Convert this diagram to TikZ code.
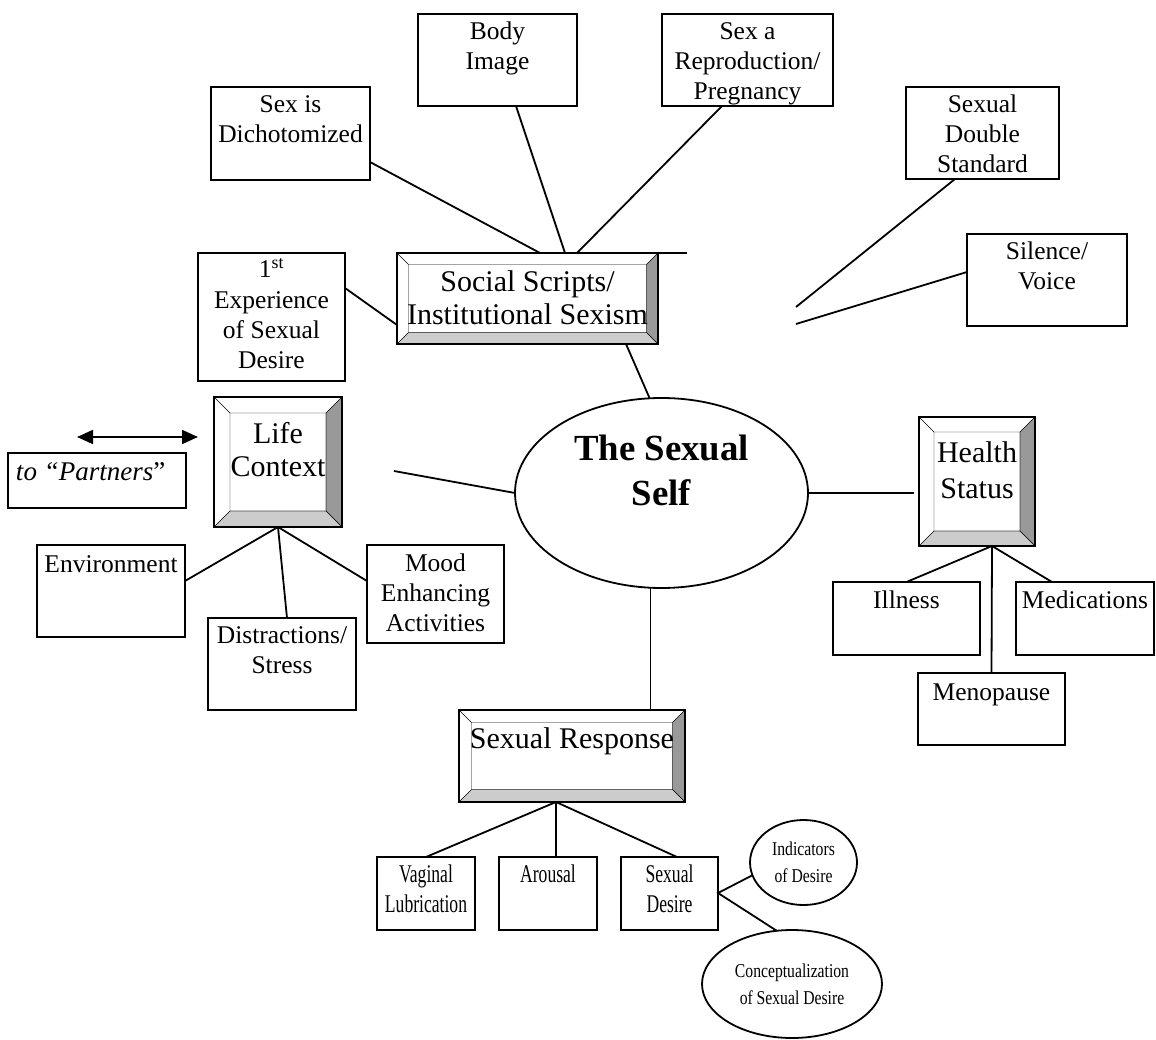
\documentclass[tikz,border=0pt]{standalone}
\usepackage{fontspec}
\setmainfont{Liberation Serif}
\newfontfamily\condfont[FakeStretch=0.69]{Liberation Serif}
\newfontfamily\slimfont[FakeStretch=0.8]{Liberation Serif}
\usetikzlibrary{calc,shapes.geometric,arrows.meta,backgrounds}

\definecolor{bevdark}{gray}{0.6}
\definecolor{bevlight}{gray}{0.8}

% fixed-size text block: width, height, first baseline offset, lines
\newcommand\btext[4]{\parbox[c][#2pt][t]{#1pt}{\centering\rule{0pt}{#3pt}#4}}

% bevelled frame around a rectangular node: node name, bevel width
\newcommand\bevelframe[2]{%
  \begin{scope}[on background layer, bevelline]
    \path (#1.north west) coordinate (bo1) (#1.north east) coordinate (bo2)
          (#1.south east) coordinate (bo3) (#1.south west) coordinate (bo4);
    \path ($(bo1)+(#2,#2)$) coordinate (bi1) ($(bo2)+(-#2,#2)$) coordinate (bi2)
          ($(bo3)+(-#2,-#2)$) coordinate (bi3) ($(bo4)+(#2,-#2)$) coordinate (bi4);
    \filldraw[fill=bevdark] (bo2) -- (bo3) -- (bi3) -- (bi2) -- cycle;
    \filldraw[fill=bevlight] (bo4) -- (bo3) -- (bi3) -- (bi4) -- cycle;
    \draw (bo1) -- (bi1) (bi1) rectangle (bi3);
  \end{scope}}

\tikzset{
  every node/.style={inner sep=0pt, outer sep=0pt},
  plainbox/.style={draw, line width=2pt, anchor=north west, font=\fontsize{25.5}{30}\selectfont},
  lowbox/.style={plainbox, font=\condfont\fontsize{25.5}{30}\selectfont},
  bevbox/.style={draw, line width=2.2pt, anchor=north west, font=\fontsize{30}{33}\selectfont},
  bubble/.style={draw, ellipse, line width=1.8pt, align=center, font=\slimfont\fontsize{19.6}{27}\selectfont},
  link/.style={line width=1.8pt},
  bevelline/.style={line width=1.9pt, line join=miter},
  twoway/.style={{Triangle[length=16pt,width=14pt]}-{Triangle[length=16pt,width=14pt]}},
}

\begin{document}
\begin{tikzpicture}[x=1pt, y=-1pt]
\begin{scope}[on background layer]
  \fill[white] (0,0) rectangle (1156,1040);
\end{scope}
\useasboundingbox (0,0) rectangle (1156,1040);

% social scripts cluster
\node[plainbox] (dich) at (211,87) {\btext{159}{93}{26}{Sex is\\Dichotomized}};
\node[plainbox] (body) at (418,14) {\btext{159}{92}{26}{Body\\Image}};
\node[plainbox] (repro) at (662,14) {\btext{171}{92}{26}{Sex a\\Reproduction/\\Pregnancy}};
\node[plainbox] (dbl) at (906,87) {\btext{153}{92}{26}{Sexual\\Double\\Standard}};
\node[plainbox] (sil) at (967,234) {\btext{160}{92}{26}{Silence/\\Voice}};
\node[plainbox] (exp) at (198,253) {\btext{147}{128}{25}{1\textsuperscript{st}\\Experience\\of Sexual\\Desire}};
\node[bevbox] (ss) at (397,253) {\btext{261}{91}{39}{Social Scripts/\\Institutional Sexism}};
\bevelframe{ss}{11.5}

% life context cluster
\node[bevbox] (lc) at (214,397) {\btext{128}{130}{46}{Life\\Context}};
\bevelframe{lc}{16}
\node[plainbox] (partners) at (8,453) {\parbox[c][55pt][t]{178pt}{\rule{0pt}{27pt}\hspace*{8pt}\fontsize{27}{30}\selectfont\itshape to “Partners\/\upshape”}};
\node[plainbox] (env) at (37,545) {\btext{148}{92}{27}{Environment}};
\node[plainbox] (distr) at (208,618) {\btext{148}{92}{25}{Distractions/\\Stress}};
\node[plainbox] (mood) at (367,545) {\btext{137}{98}{26}{Mood\\Enhancing\\Activities}};

% centre
\node[draw, ellipse, line width=1.8pt, minimum width=293pt, minimum height=190pt,
      font=\bfseries\fontsize{36.8}{45}\selectfont] (self) at (661.5,493)
      {\btext{200}{130}{32}{The Sexual\\Self}};

% health status cluster
\node[bevbox] (hs) at (919,417) {\btext{116}{129}{45}{\fontsize{30}{36}\selectfont Health\\Status}};
\bevelframe{hs}{15}
\node[plainbox] (ill) at (833,582) {\btext{147}{73}{26}{Illness}};
\node[plainbox] (meds) at (1016,582) {\btext{138}{73}{26}{Medications}};
\node[plainbox] (meno) at (918,673) {\btext{147}{72}{27}{Menopause}};

% sexual response cluster
\node[bevbox] (resp) at (459,710) {\btext{226}{92}{38}{Sexual Response}};
\bevelframe{resp}{12.5}
\node[lowbox] (vag) at (377,857) {\btext{98}{73}{25}{Vaginal\\Lubrication}};
\node[lowbox] (arou) at (499,857) {\btext{98}{73}{25}{Arousal}};
\node[lowbox] (desire) at (621,857) {\btext{97}{73}{25}{Sexual\\Desire}};
\node[bubble, minimum width=107pt, minimum height=85pt] (indic) at (803.5,862.5) {Indicators\\of Desire};
\node[bubble, minimum width=180pt, minimum height=108pt] (concept) at (792,984) {Conceptualization\\of Sexual Desire};

% loose line ends
\coordinate (ssx) at (687,253);
\coordinate (dblend) at (796,307);
\coordinate (silend) at (796,324);
\coordinate (lcend) at (394,471);
\coordinate (hsend) at (914,493);
\coordinate (arrL) at (77,437);
\coordinate (arrR) at (198,437);

% connectors around social scripts
\draw[link] ($(dich.south east)+(0,-18)$) -- ($(ss.north west)+(143,0)$);
\draw[link] ($(body.south west)+(98,0)$) -- ($(ss.north west)+(168,0)$);
\draw[link] ($(repro.south west)+(60,0)$) -- ($(ss.north west)+(180,0)$);
\draw[link] (ss.north east) -- (ssx);
\draw[link] ($(exp.north east)+(0,35)$) -- ($(ss.south west)+(0,-19)$);
\draw[link] ($(dbl.south west)+(49,0)$) -- (dblend);
\draw[link] ($(sil.north west)+(0,38)$) -- (silend);
\draw[link] ($(ss.south west)+(229,0)$) -- ($(self.north)+(-12,0)$);

% connectors around the centre
\draw[link] (lcend) -- (self.west);
\draw[link] (self.east) -- (hsend);
\coordinate (sdrop) at ($(self.south)+(-11,0)$);
\draw[link] (sdrop) -- (sdrop |- resp.north);
\draw[link, twoway] (arrL) -- (arrR);

% life context branches
\draw[link] ($(env.north east)+(0,36)$) -- (lc.south) -- ($(mood.north west)+(0,36)$);
\draw[link] (lc.south) -- ($(distr.north west)+(79,0)$);

% health status branches
\coordinate (hsj) at ($(hs.south west)+(73,0)$);
\draw[link] (ill.north) -- (hsj) -- ($(meds.north west)+(36,0)$);
\draw[link] (hsj) -- (meno.north);

% sexual response branches
\coordinate (rj) at ($(resp.south west)+(97,0)$);
\draw[link] (vag.north) -- (rj) -- ($(desire.north west)+(56,0)$);
\draw[link] (rj) -- ($(arou.north west)+(57,0)$);
\coordinate (dj) at ($(desire.north east)+(0,36)$);
\draw[link] (indic.194) -- (dj) -- (concept.106);
\end{tikzpicture}
\end{document}
